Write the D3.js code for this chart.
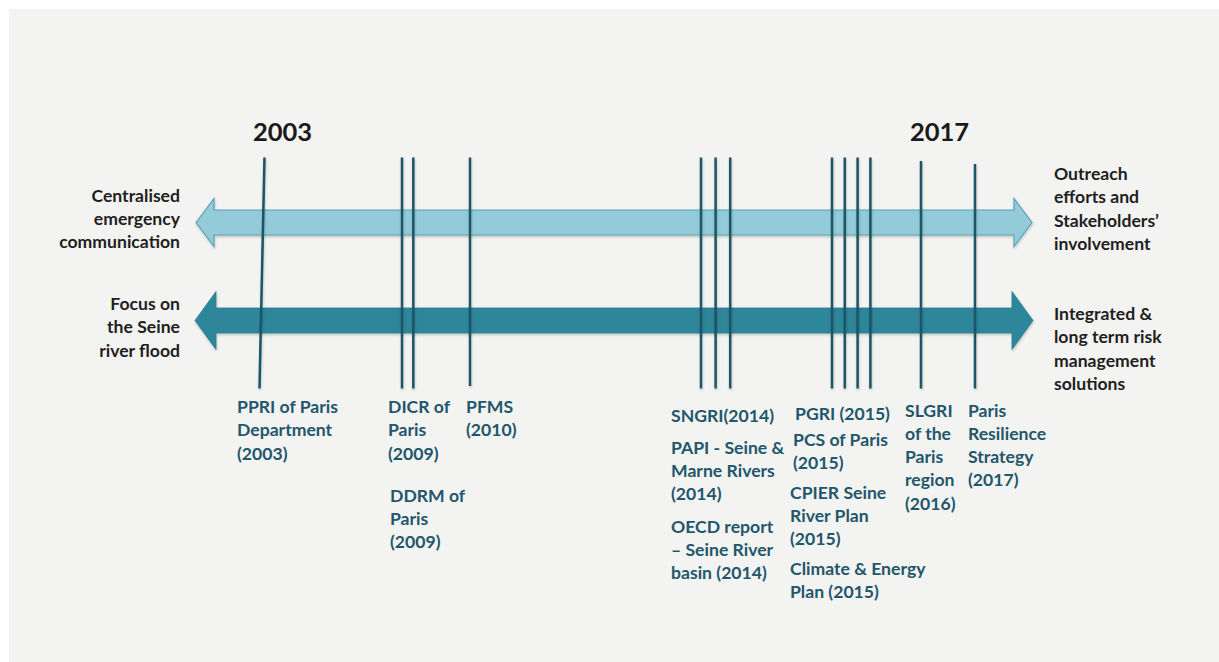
<!DOCTYPE html>
<html><head><meta charset="utf-8">
<script src="https://cdn.jsdelivr.net/npm/d3@7"></script>
<style>
html,body{margin:0;padding:0;background:#ffffff;}
svg{display:block;}
text{font-family:Lato,"Open Sans",sans-serif;font-weight:700;}
</style></head>
<body>
<svg id="chart" width="1219" height="662"></svg>
<script>
// ---------- DATA ----------
const headerYears = [2003, 2017];
const headerDx = [-9, -65];

// vertical event lines: year and slot inside the year
const lineYears = [2003, 2009, 2009, 2010, 2014, 2014, 2014, 2015, 2015, 2015, 2015, 2016, 2017];
const lineSlots = [0, 0, 1, 0, 0, 1, 2, 0, 1, 2, 3, 0, 0];

const leftLabels = [
  ["Centralised", "emergency", "communication"],
  ["Focus on", "the Seine", "river flood"]
];
const rightLabels = [
  ["Outreach", "efforts and", "Stakeholders\u2019", "involvement"],
  ["Integrated &", "long term risk", "management", "solutions"]
];

const eventYears = [2003, 2009, 2009, 2010, 2014, 2014, 2014, 2015, 2015, 2015, 2015, 2016, 2017];
const eventTexts = [
  ["PPRI of Paris", "Department", "(2003)"],
  ["DICR of", "Paris", "(2009)"],
  ["DDRM of", "Paris", "(2009)"],
  ["PFMS", "(2010)"],
  ["SNGRI(2014)"],
  ["PAPI - Seine &", "Marne Rivers", "(2014)"],
  ["OECD report", "\u2013 Seine River", "basin (2014)"],
  ["PGRI (2015)"],
  ["PCS of Paris", "(2015)"],
  ["CPIER Seine", "River Plan", "(2015)"],
  ["Climate & Energy", "Plan (2015)"],
  ["SLGRI", "of the", "Paris", "region", "(2016)"],
  ["Paris", "Resilience", "Strategy", "(2017)"]
];

// ---------- LAYOUT ----------
const svg = d3.select("#chart");
const W = 1219, H = 662;

svg.append("rect").attr("x", 9).attr("y", 9).attr("width", W - 9).attr("height", H - 9).attr("fill", "#f3f3f2");

const x = d3.scaleLinear()
  .domain([2003, 2009, 2010, 2014, 2015, 2016, 2017])
  .range([262, 402, 470, 701, 832, 921, 975]);
const slotW = {2009: 11.3, 2014: 14.6, 2015: 12.8};
const lineX = (i) => x(lineYears[i]) + lineSlots[i] * (slotW[lineYears[i]] || 0);

const defs = svg.append("defs");
const f = defs.append("filter").attr("id", "sh").attr("filterUnits", "userSpaceOnUse")
  .attr("x", 0).attr("y", 0).attr("width", W).attr("height", H);
f.append("feDropShadow").attr("dx", 0.5).attr("dy", 1.5).attr("stdDeviation", 1.2).attr("flood-color", "#000").attr("flood-opacity", 0.22);

function arrowPath(xl, xr, cy, bh, hh, hl) {
  const p = d3.path();
  p.moveTo(xl, cy);
  p.lineTo(xl + hl, cy - hh);
  p.lineTo(xl + hl, cy - bh);
  p.lineTo(xr - hl, cy - bh);
  p.lineTo(xr - hl, cy - hh);
  p.lineTo(xr, cy);
  p.lineTo(xr - hl, cy + hh);
  p.lineTo(xr - hl, cy + bh);
  p.lineTo(xl + hl, cy + bh);
  p.lineTo(xl + hl, cy + hh);
  p.closePath();
  return p.toString();
}

// arrows
svg.append("path")
  .attr("d", arrowPath(196, 1032, 222.5, 12.5, 24, 18))
  .attr("fill", "#93cbd9").attr("stroke", "#5aa3b6").attr("stroke-width", 1.2)
  .attr("filter", "url(#sh)");
svg.append("path")
  .attr("d", arrowPath(195, 1033, 320.5, 12.5, 29, 21))
  .attr("fill", "#2e869a").attr("stroke", "#2a7d90").attr("stroke-width", 0.8)
  .attr("filter", "url(#sh)");

// vertical lines
const lineTop = (i) => lineYears[i] === 2016 ? 161 : (lineYears[i] === 2017 ? 164 : 157.5);
const lineBot = (i) => lineYears[i] === 2010 ? 386 : 388.5;
const tilt = (i) => lineYears[i] === 2003 ? 2.5 : 0;
svg.append("g").attr("filter", "url(#sh)")
  .selectAll("line").data(lineYears).join("line")
  .attr("x1", (d, i) => lineX(i) + tilt(i))
  .attr("x2", (d, i) => lineX(i) - tilt(i))
  .attr("y1", (d, i) => lineTop(i))
  .attr("y2", (d, i) => lineBot(i))
  .attr("stroke", "#1c5466").attr("stroke-width", 2.5);

// header years
svg.append("g").selectAll("text").data(headerYears).join("text")
  .attr("x", (d, i) => x(d) + headerDx[i])
  .attr("y", 141)
  .attr("font-size", 25.5).attr("fill", "#1a1a1a")
  .text(d => d);

// side labels
const fs = 17.6;
const lh = 23.3;
const leftBase = [201.5, 310];
leftLabels.forEach((lines, k) => {
  svg.append("text").attr("text-anchor", "end").attr("font-size", fs).attr("fill", "#1e1e1e")
    .selectAll("tspan").data(lines).join("tspan")
    .attr("x", 180).attr("y", (d, i) => leftBase[k] + i * lh).text(d => d);
});
const rightBase = [180, 320];
rightLabels.forEach((lines, k) => {
  svg.append("text").attr("text-anchor", "start").attr("font-size", fs).attr("fill", "#1e1e1e")
    .selectAll("tspan").data(lines).join("tspan")
    .attr("x", 1054).attr("y", (d, i) => rightBase[k] + i * lh).text(d => d);
});

// event labels: dx from the year position, first baseline
const evDx = [-25, -14, -12, -4, -30, -30, -30, -37, -39, -42, -42, -16, -7];
const evBase = [413, 413, 501.5, 413, 421.5, 453.5, 532.5, 419.5, 446, 498.5, 575, 416.5, 416.5];
eventTexts.forEach((lines, k) => {
  svg.append("text").attr("font-size", fs).attr("fill", "#22566a")
    .selectAll("tspan").data(lines).join("tspan")
    .attr("x", x(eventYears[k]) + evDx[k])
    .attr("y", (d, i) => evBase[k] + i * lh).text(d => d);
});
</script>
</body></html>
